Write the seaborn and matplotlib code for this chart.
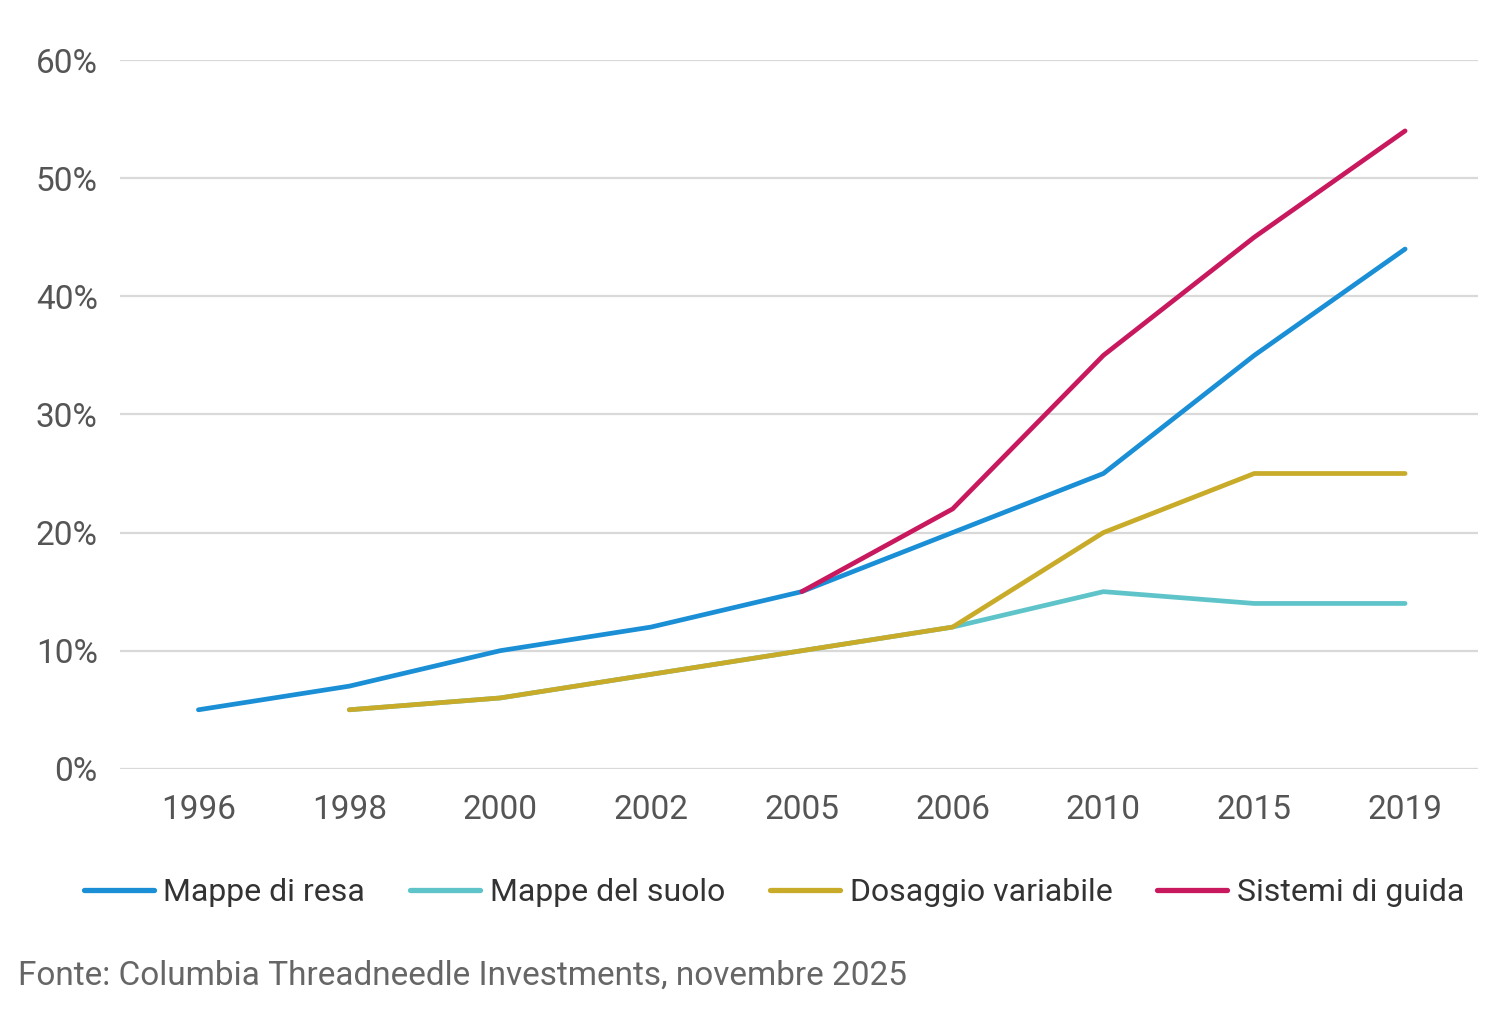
import numpy as np
import pandas as pd
import seaborn as sns
import matplotlib.pyplot as plt

years = ['1996', '1998', '2000', '2002', '2005', '2006', '2010', '2015', '2019']
mappe_resa = [5, 7, 10, 12, 15, 20, 25, 35, 44]
mappe_suolo = [np.nan, 5, 6, 8, 10, 12, 15, 14, 14]
dosaggio = [np.nan, 5, 6, 8, 10, 12, 20, 25, 25]
sistemi_guida = [np.nan, np.nan, np.nan, np.nan, 15, 22, 35, 45, 54]

series = {
    'Mappe di resa': mappe_resa,
    'Mappe del suolo': mappe_suolo,
    'Dosaggio variabile': dosaggio,
    'Sistemi di guida': sistemi_guida,
}
colors = ['#1a8fd6', '#5ec4c9', '#c9ab2a', '#c8195f']

rows = []
for name, vals in series.items():
    for i, v in enumerate(vals):
        rows.append({'pos': i, 'val': v, 'serie': name})
df = pd.DataFrame(rows).dropna()

sns.set_style('white')
plt.rcParams['font.family'] = ['Roboto', 'DejaVu Sans']

fig = plt.figure(figsize=(15, 10.17), dpi=100)
ax = fig.add_axes([0.08, 0.244, 0.905, 0.697])

sns.lineplot(data=df, x='pos', y='val', hue='serie', palette=colors,
             hue_order=list(series.keys()), linewidth=3.4, ax=ax, legend=False)

ax.set_xlim(-0.52, 8.48)
ax.set_ylim(0, 60)
ax.set_xticks(range(len(years)))
ax.set_xticklabels(years)
ax.set_yticks(range(0, 61, 10))
ax.set_yticklabels([f'{v}%' for v in range(0, 61, 10)])
ax.yaxis.grid(True, color='#d9d9d9', linewidth=1.6)
ax.set_axisbelow(True)
for s in ax.spines.values():
    s.set_visible(False)
ax.tick_params(axis='both', colors='#555555', labelsize=24, length=0)
ax.tick_params(axis='x', pad=18)
ax.tick_params(axis='y', pad=16)
ax.set_xlabel('')
ax.set_ylabel('')

handles = [plt.Line2D([], [], color=c, linewidth=3.8) for c in colors]
fig.legend(handles, list(series.keys()), loc='center', bbox_to_anchor=(0.516, 0.122),
           ncol=4, frameon=False, fontsize=23, handlelength=2.2, handletextpad=0.3,
           columnspacing=1.4, labelcolor='#333333')

fig.text(0.012, 0.032, 'Fonte: Columbia Threadneedle Investments, novembre 2025',
         fontsize=24, color='#666666')

fig.savefig('out.png', dpi=100)
